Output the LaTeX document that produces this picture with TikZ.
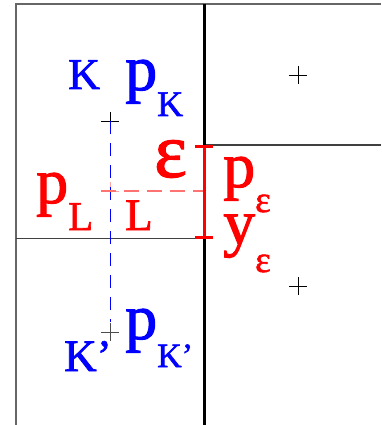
\documentclass[tikz,border=0pt]{standalone}
\usepackage{fontspec}
\setmainfont{Liberation Serif}[FakeBold=1.5]
\usetikzlibrary{arrows.meta,positioning}
\newcommand\fsz[1]{\fontsize{#1}{#1}\selectfont}
\tikzset{
  ctr/.style={inner sep=0pt,minimum size=18pt,
    path picture={\draw[line width=0.8pt] (path picture bounding box.north)--(path picture bounding box.south)
      (path picture bounding box.west)--(path picture bounding box.east);}},
  lab/.style={anchor=base west,inner sep=0pt},
  cell/.style={black!75,line width=1.5pt},
}
\begin{document}
\begin{tikzpicture}[x=1pt,y=-1pt]
\useasboundingbox (0,0) rectangle (381,425);
% mesh
\coordinate (tl) at (16,4);
\coordinate (tr) at (381,4);
\coordinate (bl) at (16,425);
\coordinate (mt) at (204,4);
\coordinate (mb) at (204,425);
\coordinate (etop) at (204,145);
\coordinate (ebot) at (204,238.5);
\coordinate (rr) at (381,145);
\draw[black!60,line width=1.2pt] (bl) -- (tl) -- (tr);
\draw[cell] (etop) -- (rr);
\draw[cell] (ebot) -- (ebot -| tl);
\draw[black,line width=3pt] (mt) -- (mb);
% centres
\node[ctr] (K) at (110,121) {};
\node[ctr,black!70] (Kp) at (110,332) {};
\node[ctr,red!35] (L) at (110,191) {};
\node[ctr] (R1) at (298,75) {};
\node[ctr] (R2) at (298,286) {};
\draw[blue,dash pattern=on 13pt off 9pt,line width=0.8pt] (K.center) -- ([yshift=10pt]Kp.center);
\draw[red!55,dash pattern=on 15pt off 8pt,line width=1.2pt] (L.west) -- (L.center -| etop);
\draw[red,line width=3pt,{Bar[width=18pt]}-{Bar[width=18pt]}] (etop) -- (ebot);
% labels
\begin{scope}[blue]
\node[lab] (labK) at (68,89) {\fsz{44}K};
\node[lab] (pK) at (125,90) {\fsz{64}p\smash{\raisebox{-26pt}{\fsz{36}K}}};
\node[lab] (labKp) at (64,371) {\fsz{45}K’};
\node[lab] (pKp) at (125,339) {\fsz{64}p\smash{\raisebox{-28pt}{\fsz{34}K’}}};
\end{scope}
\begin{scope}[red]
\node[lab] (eps) at (154,177) {\fsz{78}ε};
\node[lab] (pL) at (36,203) {\fsz{64}p\smash{\raisebox{-27pt}{\fsz{41}L}}};
\node[lab] (labL) at (125,230) {\fsz{45}L};
\node[lab] (pe) at (223,187) {\fsz{64}p\smash{\raisebox{-25pt}{\fsz{37}ε}}};
\node[lab] (ye) at (223,244) {\fsz{64}y\smash{\raisebox{-28pt}{\fsz{37}ε}}};
\end{scope}
\end{tikzpicture}
\end{document}
